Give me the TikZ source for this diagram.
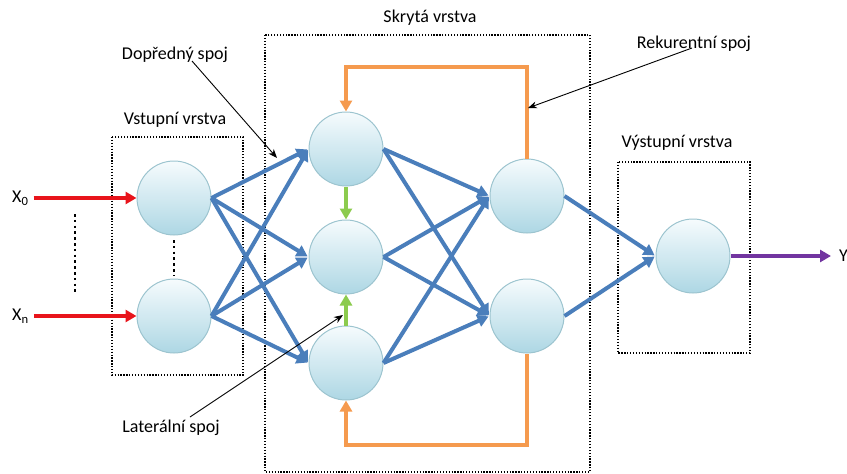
\documentclass[tikz,border=0pt]{standalone}
\usepackage{fontspec}
\setmainfont{Carlito}
\usetikzlibrary{arrows.meta,calc}
\definecolor{netblue}{HTML}{4A7EBB}
\definecolor{netred}{HTML}{E8141B}
\definecolor{netorange}{HTML}{F59A4E}
\definecolor{netgreen}{HTML}{8CCB4E}
\definecolor{netpurple}{HTML}{7235A0}
\definecolor{nodeedge}{HTML}{9CC4CF}
\definecolor{nodetop}{HTML}{F6FBFD}
\definecolor{nodemid}{HTML}{DCEFF5}
\definecolor{nodebot}{HTML}{ADD7E4}
\begin{document}
\begin{tikzpicture}[x=1pt,y=-1pt,
  neuron/.style={circle,minimum size=74pt,inner sep=0pt,draw=nodeedge,line width=1pt,
    top color=nodetop,middle color=nodemid,bottom color=nodebot},
  layerbox/.style={draw=black,line width=1.3pt,dash pattern=on 1.3pt off 1.6pt},
  vdots/.style={draw=black,line width=2.6pt,dash pattern=on 2.6pt off 3.2pt},
  lbl/.style={font=\fontsize{18}{20}\selectfont,inner sep=0pt},
  tipbig/.style={-{Triangle[length=11pt,width=12pt]}},
  feed/.style={netblue,line width=4pt,tipbig,shorten >=1pt},
  inp/.style={netred,line width=3.6pt,tipbig},
  rec/.style={netorange,line width=4pt,tipbig},
  lat/.style={netgreen,line width=4pt,tipbig},
  outp/.style={netpurple,line width=3.6pt,tipbig},
  note/.style={black,line width=0.9pt,-{Stealth[length=9pt,width=7pt]}}]
\useasboundingbox (0,0) rectangle (847,474);

% layer frames
\draw[layerbox] (112,137) rectangle (243,375);
\draw[layerbox] (265,35) rectangle (590,472);
\draw[layerbox] (618,162) rectangle (750,353);

% layer titles
\node[lbl] (tin)  at (175,120) {Vstupní vrstva};
\node[lbl] (thid) at (430,18)  {Skrytá vrstva};
\node[lbl] (tout) at (677,143) {Výstupní vrstva};

% neurons
\node[neuron] (i0) at (174,198) {};
\node[neuron] (i1) at (174,316) {};
\node[neuron] (h0) at (346,149) {};
\node[neuron] (h1) at (346,257) {};
\node[neuron] (h2) at (346,363) {};
\node[neuron] (r0) at (527,196) {};
\node[neuron] (r1) at (527,316) {};
\node[neuron] (o)  at (693,256) {};

% ellipsis dots
\coordinate (da) at (75,214);  \coordinate (db) at (75,294);
\draw[vdots] (da) -- (db);
\coordinate (dc) at (174,240); \coordinate (dd) at (174,275);
\draw[vdots] (dc) -- (dd);

% inputs
\node[lbl,anchor=west] (x0) at (12,198) {X\textsubscript{0}};
\node[lbl,anchor=west] (xn) at (12,316) {X\textsubscript{n}};
\draw[inp] ([xshift=5pt]x0.east) -- (i0.west);
\draw[inp] ([xshift=5pt]xn.east) -- (i1.west);

% feed-forward connections
\foreach \a in {i0,i1}
  \foreach \b in {h0,h1,h2}
    \draw[feed] (\a.east) -- (\b.west);
\foreach \a in {h0,h1,h2}
  \foreach \b in {r0,r1}
    \draw[feed] (\a.east) -- (\b.west);
\draw[feed] (r0.east) -- (o.west);
\draw[feed] (r1.east) -- (o.west);

% lateral connections
\draw[lat] (h0.south) -- (h1.north);
\draw[lat] (h2.north) -- (h1.south);

% recurrent loops
\coordinate (loopT) at (437,67);
\coordinate (loopB) at (437,445);
\draw[rec] (r0.north) |- (loopT) -| (h0.north);
\draw[rec] (r1.south) |- (loopB) -| (h2.south);

% output
\node[lbl,anchor=west] (y) at (839,256) {Y};
\draw[outp] (o.east) -- ([xshift=-8pt]y.west);

% annotations
\node[lbl] (ndop) at (175,55)  {Dopředný spoj};
\node[lbl] (nrek) at (694,44)  {Rekurentní spoj};
\node[lbl] (nlat) at (171,428) {Laterální spoj};
\coordinate (pdop) at (192,61);
\coordinate (qdop) at (277,158);
\coordinate (prek) at (692,48);
\coordinate (qrek) at (528,108);
\coordinate (plat) at (190,417);
\coordinate (qlat) at (343,315);
\draw[note] (pdop) -- (qdop);
\draw[note] (prek) -- (qrek);
\draw[note] (plat) -- (qlat);
\end{tikzpicture}
\end{document}
